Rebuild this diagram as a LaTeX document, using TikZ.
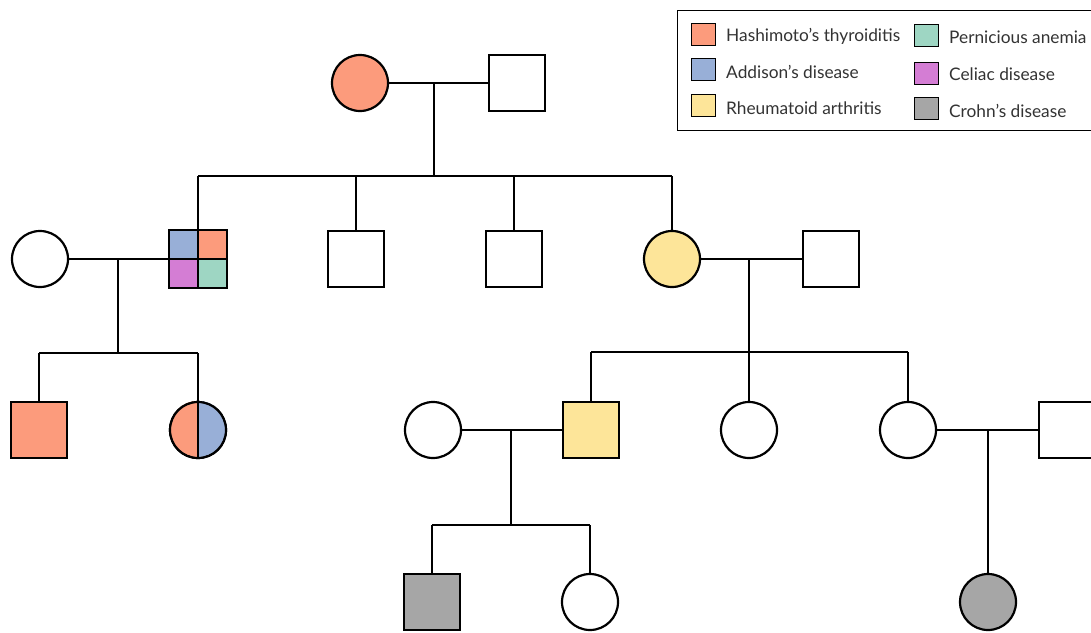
\documentclass[tikz,border=0pt]{standalone}
\usepackage{fontspec}
\setmainfont{Lato}
\definecolor{hashc}{HTML}{FC9B7C}
\definecolor{addc}{HTML}{98AFD7}
\definecolor{rheuc}{HTML}{FDE599}
\definecolor{pernc}{HTML}{9ED6C3}
\definecolor{celc}{HTML}{D47DD4}
\definecolor{crohc}{HTML}{A6A6A6}
\tikzset{
  ln/.style={line width=2.2pt},
  fem/.style={circle, draw, line width=2.2pt, minimum size=56pt, inner sep=0pt},
  mal/.style={rectangle, draw, line width=2.2pt, minimum size=56pt, inner sep=0pt},
  sw/.style={draw, line width=1pt, minimum width=24pt, minimum height=22pt, inner sep=0pt},
  lt/.style={anchor=west, inner sep=0pt, font=\fontsize{17.3}{20}\selectfont, text=black!80},
}
\begin{document}
\begin{tikzpicture}[x=1pt,y=-1pt]
\useasboundingbox (0,0) rectangle (1091,632);
\clip (0,0) rectangle (1091,632);
% generation 0
\node[fem, fill=hashc] (g0f) at (360,83) {};
\node[mal] (g0m) at (517,83) {};
\coordinate (m0) at (434,83);
\coordinate (s0) at (434,176);
\draw[ln] (g0f) -- (g0m);
\draw[ln] (m0) -- (s0);
% generation 1
\node[fem] (w1) at (40,259) {};
\node[mal] (q) at (198,259) {};
\node[mal] (b2) at (356,259) {};
\node[mal] (b3) at (514,259) {};
\node[fem, fill=rheuc] (d4) at (672,259) {};
\node[mal] (h4) at (831,259) {};
\fill[addc] (q.north west) rectangle (q.center);
\fill[hashc] (q.north east) rectangle (q.center);
\fill[celc] (q.south west) rectangle (q.center);
\fill[pernc] (q.south east) rectangle (q.center);
\draw[ln] (q.north west) rectangle (q.south east);
\draw[ln] (q.north) -- (q.south);
\draw[ln] (q.west) -- (q.east);
\coordinate (s0a) at (198,176);
\coordinate (s0b) at (672,176);
\draw[ln] (s0a) -- (s0b);
\draw[ln] (s0a) -- (q.north);
\draw[ln] (b2.north |- s0a) -- (b2.north);
\draw[ln] (b3.north |- s0a) -- (b3.north);
\draw[ln] (s0b) -- (d4.north);
% family of q
\draw[ln] (w1) -- (q);
\coordinate (m1) at (118,259);
\coordinate (s1) at (118,353);
\draw[ln] (m1) -- (s1);
\node[mal, fill=hashc] (c1) at (39,430) {};
\node[fem] (c2) at (198,430) {};
\fill[hashc] (c2.north) arc[start angle=90, end angle=270, radius=28pt] -- cycle;
\fill[addc] (c2.north) arc[start angle=90, end angle=-90, radius=28pt] -- cycle;
\draw[ln] (c2.center) circle[radius=28pt];
\draw[ln] (c2.north) -- (c2.south);
\coordinate (s1a) at (39,353);
\coordinate (s1b) at (198,353);
\draw[ln] (s1a) -- (s1b);
\draw[ln] (s1a) -- (c1.north);
\draw[ln] (s1b) -- (c2.north);
% family of d4
\draw[ln] (d4) -- (h4);
\coordinate (m2) at (749,259);
\coordinate (s2) at (749,352);
\draw[ln] (m2) -- (s2);
\node[fem] (w3) at (433,430) {};
\node[mal, fill=rheuc] (r3) at (591,430) {};
\node[fem] (d5) at (749,430) {};
\node[fem] (d6) at (908,430) {};
\node[mal] (h6) at (1067,430) {};
\coordinate (s2a) at (591,352);
\coordinate (s2b) at (908,352);
\draw[ln] (s2a) -- (s2b);
\draw[ln] (s2a) -- (r3.north);
\draw[ln] (s2) -- (d5.north);
\draw[ln] (s2b) -- (d6.north);
% family of r3
\draw[ln] (w3) -- (r3);
\coordinate (m3) at (511,430);
\coordinate (s3) at (511,525);
\draw[ln] (m3) -- (s3);
\node[mal, fill=crohc] (c3) at (432,602) {};
\node[fem] (c4) at (590,602) {};
\coordinate (s3a) at (432,525);
\coordinate (s3b) at (590,525);
\draw[ln] (s3a) -- (s3b);
\draw[ln] (s3a) -- (c3.north);
\draw[ln] (s3b) -- (c4.north);
% family of d6
\draw[ln] (d6) -- (h6);
\node[fem, fill=crohc] (c5) at (988,602) {};
\coordinate (m4) at (988,430);
\draw[ln] (m4) -- (c5.north);
% legend
\node[draw, line width=1pt, fill=white, minimum width=440pt, minimum height=120pt, anchor=north west, inner sep=0pt] (leg) at (677,10) {};
\node[sw, fill=hashc] (k1) at (703.5,34) {};
\node[lt] (t1) at (726,36) {Hashimoto's thyroiditis};
\node[sw, fill=addc] (k2) at (703.5,69) {};
\node[lt] (t2) at (726,72) {Addison's disease};
\node[sw, fill=rheuc] (k3) at (703.5,105) {};
\node[lt] (t3) at (726,108) {Rheumatoid arthritis};
\node[sw, fill=pernc] (k4) at (926.5,35) {};
\node[lt] (t4) at (949,37) {Pernicious anemia};
\node[sw, fill=celc] (k5) at (926.5,73) {};
\node[lt] (t5) at (949,74) {Celiac disease};
\node[sw, fill=crohc] (k6) at (926.5,108) {};
\node[lt] (t6) at (949,111) {Crohn's disease};
\end{tikzpicture}
\end{document}
